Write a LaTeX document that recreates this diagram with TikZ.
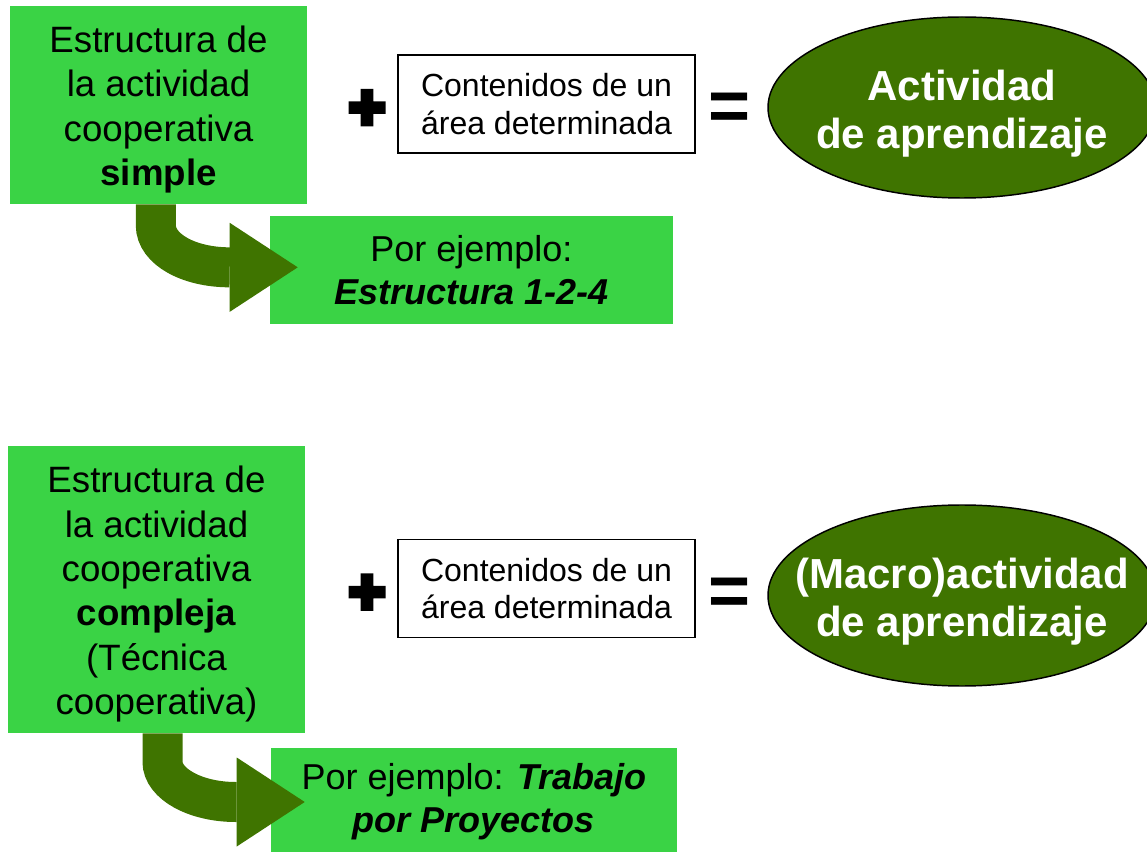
\documentclass[tikz,border=0pt]{standalone}
\usepackage{fontspec}
\setmainfont{Liberation Sans}
\newfontfamily\heavyfont{Liberation Sans Bold}[FakeBold=9]
\usetikzlibrary{positioning, calc, arrows.meta, shapes.geometric}

\definecolor{lightgreen}{RGB}{58,211,69}
\definecolor{darkgreen}{RGB}{63,116,0}

\begin{document}
\begin{tikzpicture}[x=0.75pt, y=0.75pt,
    structure/.style={rectangle, fill=lightgreen, minimum width=222.75pt, align=center, font=\fontsize{27.5}{33.3}\selectfont},
    example/.style={rectangle, fill=lightgreen, minimum width=302.25pt, minimum height=81pt, align=center, font=\fontsize{27}{32}\selectfont},
    content/.style={rectangle, draw=black, line width=1.1pt, fill=white, minimum width=222.75pt, minimum height=73.5pt, align=center, font=\fontsize{24}{28}\selectfont},
    result/.style={ellipse, draw=black, line width=1.1pt, fill=darkgreen, minimum width=291pt, minimum height=135.75pt},
    resulttext/.style={text=white, align=center, yshift=-4.5pt, font=\fontsize{31.5}{36.5}\selectfont\bfseries},
    plus/.style={inner sep=0pt, font=\fontsize{47}{47}\selectfont\heavyfont},
    equal/.style={inner sep=0pt, font=\fontsize{54}{54}\selectfont\bfseries},
    bigarrow/.style={draw=darkgreen, line width=30pt, -{Triangle[length=51pt, width=66.75pt, line width=0pt]}}
]

    \useasboundingbox (0,0) rectangle (1147,-852);
    \clip (0,0) rectangle (1147,-852);

    % Simple structure
    \node[structure, minimum height=148.5pt] (A1) at (158.5,-105) {\rule{0pt}{27pt}Estructura de\\la actividad\\cooperativa\\\textbf{simple}};
    \node[example] (B1) at (471.5,-270) {Por ejemplo:\\\textbf{\textit{Estructura 1-2-4}}};

    % Complex structure
    \node[structure, minimum height=215.25pt] (A2) at (156.5,-589.5) {\rule{0pt}{27pt}Estructura de\\la actividad\\cooperativa\\\textbf{compleja}\\(Técnica\\cooperativa)};
    \node[example, minimum width=304.5pt] (B2) at (474,-802) {Por ejemplo: \textbf{\textit{Trabajo}}\\\textbf{\textit{por Proyectos}}};

    % Contents, plus and equal signs
    \foreach \i/\y in {1/-104, 2/-588.5} {
        \node[plus] (P\i) at (367,\y-6) {+};
        \node[content] (C\i) at (546.5,\y) {Contenidos de un\\área determinada};
        \node[equal] (Q\i) at (730,\y-8) {=};
    }

    % Results
    \node[result, label={[resulttext]center:Actividad\\de aprendizaje}] (E1) at (962,-107.5) {};
    \node[result, label={[resulttext]center:(Macro)actividad\\de aprendizaje}] (E2) at (962,-595.5) {};

    % Curved arrows
    \draw[bigarrow] ([xshift=-2pt]A1.south) -- ++(0,-21) .. controls +(0,-24) and +(-41,0) .. ([xshift=-30pt, yshift=2pt]B1.west) -- ([xshift=21pt, yshift=2pt]B1.west);
    \draw[bigarrow] ([xshift=4.5pt]A2.south) -- ++(0,-28.5) .. controls +(0,-22) and +(-40.5,0) .. ([xshift=-26.25pt]B2.west) -- ([xshift=25.5pt]B2.west);

\end{tikzpicture}
\end{document}
